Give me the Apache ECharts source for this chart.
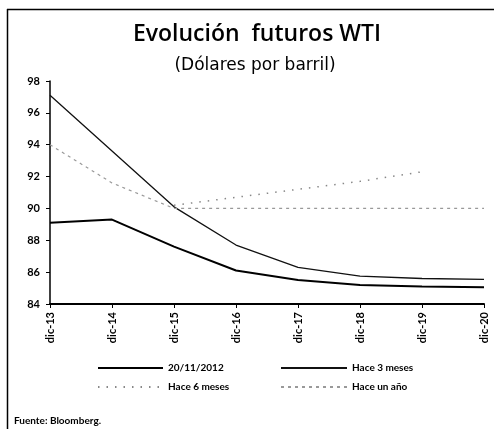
<!DOCTYPE html>
<html>
<head>
<meta charset="utf-8">
<title>Evolución futuros WTI</title>
<script src="https://cdn.jsdelivr.net/npm/echarts@6/dist/echarts.min.js"></script>
<style>
  html, body { margin: 0; padding: 0; background: #fff; }
  #chart { width: 494px; height: 429px; }
</style>
</head>
<body>
<div id="chart"></div>
<script>
// categorias del eje X (vencimientos)
var vencimientos = ['dic-13', 'dic-14', 'dic-15', 'dic-16', 'dic-17', 'dic-18', 'dic-19', 'dic-20'];

// curvas de futuros WTI, dolares por barril
var actual     = [89.1, 89.3, 87.6, 86.1, 85.5, 85.2, 85.1, 85.05];   // 20/11/2012
var hace3Meses = [97.1, 93.6, 90.1, 87.7, 86.3, 85.75, 85.6, 85.55];
var hace6Meses = [null, null, 90.2, 90.7, 91.2, 91.7, 92.3, null];
var haceUnAno  = [94.0, 91.6, 90.0, 90.0, 90.0, 90.0, 90.0, 90.0];

var nombres = ['20/11/2012', 'Hace 3 meses', 'Hace 6 meses', 'Hace un año'];

var fuente = 'Lato, "Liberation Sans", sans-serif';

var chart = echarts.init(document.getElementById('chart'));

// un legend por elemento para poder colocarlos en 2x2
function leyenda(nombre, x, y, ancho) {
    return {
        data: [nombre],
        left: x,
        top: y,
        padding: 0,
        itemWidth: ancho,
        itemHeight: 10,
        itemStyle: { opacity: 0 },
        textStyle: { fontFamily: fuente, fontSize: 10, fontWeight: 'bold', color: '#000' },
        selectedMode: false
    };
}

var option = {
    backgroundColor: '#fff',
    animation: false,
    title: [
        {
            text: 'Evolución  futuros WTI',
            left: 252,
            textAlign: 'center',
            top: 18,
            textStyle: { fontFamily: '"Open Sans", sans-serif', fontSize: 23, fontWeight: 600, color: '#000' }
        },
        {
            text: '(Dólares por barril)',
            left: 250,
            textAlign: 'center',
            top: 52,
            textStyle: { fontFamily: '"DejaVu Sans", sans-serif', fontSize: 17, fontWeight: 'normal', color: '#000' }
        }
    ],
    legend: [
        leyenda(nombres[0], 97, 363, 65),
        leyenda(nombres[1], 280, 363, 66),
        leyenda(nombres[2], 97, 382, 65),
        leyenda(nombres[3], 280, 382, 66)
    ],
    grid: {
        left: 50,
        right: 10,
        top: 81,
        bottom: 125
    },
    xAxis: {
        type: 'category',
        boundaryGap: false,
        data: vencimientos,
        axisLine: { lineStyle: { color: '#000', width: 2 } },
        axisTick: { show: true, inside: false, length: 4, lineStyle: { color: '#000' } },
        axisLabel: {
            rotate: 90,
            margin: 8,
            fontFamily: fuente,
            fontSize: 11,
            fontWeight: 'bold',
            color: '#000'
        },
        splitLine: { show: false }
    },
    yAxis: {
        type: 'value',
        min: 84,
        max: 98,
        interval: 2,
        axisLine: { show: true, lineStyle: { color: '#000', width: 1.5 } },
        axisTick: { show: true, inside: false, length: 4, lineStyle: { color: '#000' } },
        axisLabel: {
            margin: 10,
            fontFamily: fuente,
            fontSize: 11,
            fontWeight: 'bold',
            color: '#000'
        },
        splitLine: { show: false }
    },
    graphic: [
        {
            type: 'line',
            shape: { x1: 7.5, y1: 9, x2: 7.5, y2: 429 },
            style: { stroke: '#000', lineWidth: 1.5 }
        },
        {
            type: 'line',
            shape: { x1: 7, y1: 9.5, x2: 494, y2: 9.5 },
            style: { stroke: '#000', lineWidth: 1.5 }
        },
        {
            type: 'text',
            left: 14,
            top: 416,
            style: { text: 'Fuente: Bloomberg.', fontFamily: fuente, fontSize: 10, fontWeight: 'bold', fill: '#000' }
        }
    ],
    series: [
        {
            name: nombres[0],
            type: 'line',
            data: actual,
            symbol: 'none',
            lineStyle: { color: '#000', width: 2 },
            itemStyle: { color: '#000' }
        },
        {
            name: nombres[1],
            type: 'line',
            data: hace3Meses,
            symbol: 'none',
            lineStyle: { color: '#111', width: 1.3 },
            itemStyle: { color: '#111' }
        },
        {
            name: nombres[2],
            type: 'line',
            data: hace6Meses,
            symbol: 'none',
            lineStyle: { color: '#888', width: 1.5, type: [1.5, 7] },
            itemStyle: { color: '#888' }
        },
        {
            name: nombres[3],
            type: 'line',
            data: haceUnAno,
            symbol: 'none',
            lineStyle: { color: '#999', width: 1.2, type: [3, 4] },
            itemStyle: { color: '#999' }
        }
    ]
};

chart.setOption(option);
</script>
</body>
</html>
